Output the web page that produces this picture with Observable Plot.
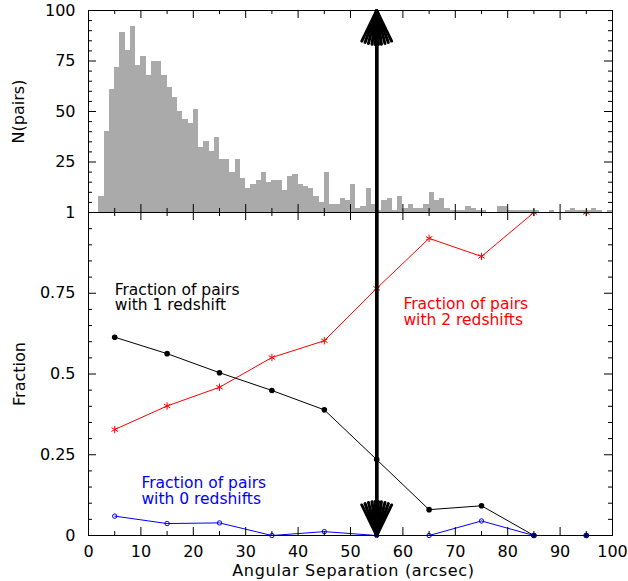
<!DOCTYPE html>
<html>
<head>
<meta charset="utf-8">
<script src="https://cdn.jsdelivr.net/npm/d3@7"></script>
<script src="https://cdn.jsdelivr.net/npm/@observablehq/plot@0.6"></script>
<style>
  html, body { margin: 0; padding: 0; background: white; }
  #chart { position: relative; width: 628px; height: 581px; }
  #chart svg { position: absolute; left: 0; top: 0; }
</style>
</head>
<body>
<div id="chart"></div>
<script>
// Histogram of pair separations: counts per 1-arcsec bin, bins starting at 0, 1, 2, ... 99
const binWidth = 1;
const pairCounts = [
  0, 0, 8, 40, 61, 72, 89, 80, 92, 73,
  77, 68, 75, 75, 68, 62, 57, 50, 46, 44,
  51, 32, 35, 30, 37, 26, 26, 20, 26, 17,
  12, 14, 16, 20, 15, 16, 16, 11, 18, 19,
  14, 13, 12, 8, 5, 20, 4, 4, 7, 6,
  14, 2, 3, 12, 4, 1, 6, 7, 1, 8,
  2, 4, 2, 2, 4, 10, 6, 7, 2, 1,
  1, 1, 3, 2, 1, 1, 0, 0, 3, 3,
  1, 1, 1, 1, 1, 1, 0, 0, 1, 0,
  0, 1, 2, 1, 1, 1, 2, 1, 0, 1
];

// Fractions of pairs in 10-arcsec separation bins
const sepCenters = [5, 15, 25, 35, 45, 55, 65, 75, 85, 95];
const frac1z = [0.614, 0.563, 0.504, 0.449, 0.389, 0.235, 0.080, 0.092, 0, 0];
const frac2z = [0.328, 0.401, 0.459, 0.551, 0.603, 0.765, 0.920, 0.864, 1, 1];
const frac0z = [0.060, 0.037, 0.039, 0, 0.012, 0, 0, 0.045, 0, 0];

// Separation cut marked by the double arrow
const cutoff = 55;
// Nested head angles give the arrow a solid-looking head
const headAngles = [52, 40, 28, 16, 6];

// Axis ticks
const xMajor = d3.range(0, 101, 10);
const xMinor = d3.range(5, 100, 10);
const nMajor = [0, 25, 50, 75, 100];
const nMinor = d3.range(0, 101, 5).filter(d => d % 25 !== 0);
const nLabels = [25, 50, 75, 100];
const fMajor = [0, 0.25, 0.5, 0.75, 1];
const fMinor = d3.range(1, 20).map(i => i / 20).filter(d => Math.round(d * 100) % 25 !== 0);

const xTitle = "Angular Separation (arcsec)";
const notes = [
  {x: 5.0, y: 0.780, text: "Fraction of pairs\nwith 1 redshift", color: "black"},
  {x: 60.1, y: 0.734, text: "Fraction of pairs\nwith 2 redshifts", color: "#ff0000"},
  {x: 10.1, y: 0.180, text: "Fraction of pairs\nwith 0 redshifts", color: "#0000ff"}
];

const hist = pairCounts.map((n, i) => ({x1: i * binWidth, x2: (i + 1) * binWidth, n}));
const rows = (ys) => sepCenters.map((x, i) => ({x, y: ys[i]}));

const W = 628, H = 581, ML = 88, MR = 16;
const topTop = 10, split = 212, lowBottom = 535;
const frameW = W - ML - MR;
const topH = split - topTop, lowH = lowBottom - split;
const major = 8, minor = 4;
const font = {fontFamily: "DejaVu Sans, sans-serif", fontSize: "16px", color: "black", background: "transparent", overflow: "visible"};

function edgeTicksX(values, len, h) {
  return [
    Plot.tickX(values, {x: d => d, insetTop: h - len, stroke: "black"}),
    Plot.tickX(values, {x: d => d, insetBottom: h - len, stroke: "black"})
  ];
}
function edgeTicksY(values, len) {
  return [
    Plot.tickY(values, {y: d => d, insetRight: frameW - len, stroke: "black"}),
    Plot.tickY(values, {y: d => d, insetLeft: frameW - len, stroke: "black"})
  ];
}
function cutArrow(from, to) {
  return headAngles.map(a => Plot.arrow([cutoff], {
    x1: d => d, x2: d => d, y1: from, y2: to,
    stroke: "black", strokeWidth: 3, headLength: 17, headAngle: a
  }));
}

// Lower panel: fractions
const lower = Plot.plot({
  width: W, height: H,
  marginLeft: ML, marginRight: MR, marginTop: split, marginBottom: H - lowBottom,
  style: font,
  x: {domain: [0, 100], ticks: xMajor, tickSize: 0, tickPadding: 10, tickFormat: d => String(d), label: null},
  y: {domain: [0, 1], ticks: fMajor, tickSize: 0, tickPadding: 13, tickFormat: d => String(d), label: null},
  marks: [
    Plot.line(rows(frac2z), {x: "x", y: "y", stroke: "#ff0000", strokeWidth: 1}),
    Plot.line(rows(frac1z), {x: "x", y: "y", stroke: "black", strokeWidth: 1}),
    Plot.line(rows(frac0z), {x: "x", y: "y", stroke: "#0000ff", strokeWidth: 1}),
    Plot.dot(rows(frac2z), {x: "x", y: "y", symbol: "asterisk", r: 3.5, stroke: "#ff0000", strokeWidth: 1}),
    Plot.dot(rows(frac1z), {x: "x", y: "y", r: 2.8, fill: "black", stroke: "none"}),
    Plot.dot(rows(frac0z), {x: "x", y: "y", r: 2.2, fill: "none", stroke: "#0000ff", strokeWidth: 1}),
    Plot.text(notes, {x: "x", y: "y", text: "text", fill: "color", textAnchor: "start", lineAnchor: "top", lineHeight: 1, fontSize: 15.5}),
    ...cutArrow(1, 0),
    ...edgeTicksX(xMajor, major, lowH),
    ...edgeTicksX(xMinor, minor, lowH),
    ...edgeTicksY(fMajor, major),
    ...edgeTicksY(fMinor, minor),
    Plot.frame({stroke: "black"}),
    Plot.text(["Fraction"], {frameAnchor: "left", dx: -69, rotate: -90, textAnchor: "middle", lineAnchor: "middle", fontSize: 16}),
    Plot.text([xTitle], {frameAnchor: "bottom", dx: 3, dy: 35, textAnchor: "middle", lineAnchor: "middle", fontSize: 16})
  ]
});

// Upper panel: number of pairs per separation bin
const upper = Plot.plot({
  width: W, height: H,
  marginLeft: ML, marginRight: MR, marginTop: topTop, marginBottom: H - split,
  style: font,
  x: {domain: [0, 100], axis: null},
  y: {domain: [0, 100], ticks: nLabels, tickSize: 0, tickPadding: 13, tickFormat: d => String(d), label: null},
  marks: [
    Plot.rectY(hist, {x1: "x1", x2: "x2", y: "n", fill: "#aaaaaa", insetLeft: 0, insetRight: 0, shapeRendering: "crispEdges"}),
    ...cutArrow(0, 100),
    ...edgeTicksX(xMajor, major, topH),
    ...edgeTicksX(xMinor, minor, topH),
    ...edgeTicksY(nMajor, major),
    ...edgeTicksY(nMinor, minor),
    Plot.frame({stroke: "black"}),
    Plot.text(["N(pairs)"], {frameAnchor: "left", dx: -70, rotate: -90, textAnchor: "middle", lineAnchor: "middle", fontSize: 16})
  ]
});

// The separation title is set slightly wider, with a little letter spacing
d3.select(lower).selectAll("text").filter(function() { return this.textContent === xTitle; })
  .attr("letter-spacing", "0.7px");

const chart = document.getElementById("chart");
chart.append(lower, upper);
</script>
</body>
</html>
